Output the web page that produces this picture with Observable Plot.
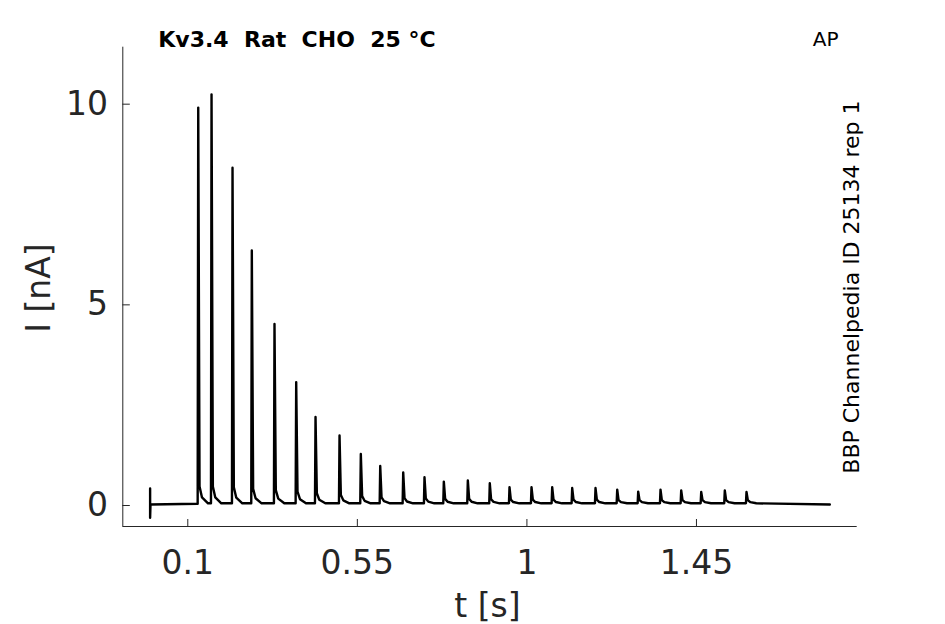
<!DOCTYPE html>
<html>
<head>
<meta charset="utf-8">
<script src="https://cdn.jsdelivr.net/npm/d3@7"></script>
<script src="https://cdn.jsdelivr.net/npm/@observablehq/plot@0.6"></script>
<style>
  html, body { margin: 0; padding: 0; background: #fff; }
  svg { display: block; }
</style>
</head>
<body>
<div id="chart"></div>
<script>
// ---- data ----
const title = "Kv3.4\u00a0\u00a0Rat\u00a0\u00a0CHO\u00a0\u00a025 \u00b0C";
const cornerLabel = "AP";
const sideLabel = "BBP Channelpedia ID 25134 rep 1";
const xLabel = "t [s]";
const yLabel = "I [nA]";

const xTicks = [0.1, 0.55, 1, 1.45];
const yTicks = [0, 5, 10];
const xDomain = [-0.0725, 1.8766];
const yDomain = [-0.548, 11.395];

// spike peak times (s) and peak currents (nA)
const spikeTimes = [0.1277, 0.1630, 0.2187, 0.2699, 0.3301, 0.3877, 0.4390, 0.5027, 0.5592,
  0.6107, 0.6717, 0.7282, 0.7795, 0.8432, 0.9015, 0.9538, 1.0122, 1.0671, 1.1202, 1.1821,
  1.2397, 1.2954, 1.3546, 1.4095, 1.4626, 1.5252, 1.5828];
const spikePeaks = [9.89, 10.22, 8.39, 6.33, 4.50, 3.05, 2.18, 1.72, 1.26,
  0.96, 0.80, 0.68, 0.57, 0.60, 0.53, 0.43, 0.43, 0.43, 0.41, 0.41,
  0.37, 0.32, 0.37, 0.35, 0.31, 0.35, 0.31];
// level of the tail knee just after each spike (nA)
const spikeKnees = [0.42, 0.42, 0.40, 0.36, 0.33, 0.29, 0.25, 0.21, 0.18,
  0.15, 0.13, 0.12, 0.11, 0.11, 0.10, 0.09, 0.09, 0.09, 0.09, 0.09,
  0.08, 0.08, 0.08, 0.08, 0.08, 0.08, 0.08];
// tail sample times after the peak (s) and their share of the knee level
const tailOffsets = [0.0035, 0.010, 0.026];
const tailShares = [1, 0.35, 0];
const riseLead = 0.0015;            // s before peak where the rise begins
const startArtifact = [0.4, -0.33]; // nA, at t = 0
const baseLevel = 0.03;             // nA
const traceEnd = 1.8039;            // s

// ---- build the trace table ----
const trace = [];
trace.push({t: 0, i: startArtifact[0]});
trace.push({t: 0, i: startArtifact[1]});
trace.push({t: 0.001, i: 0});
spikeTimes.forEach((t, k) => {
  trace.push({t: t - riseLead, i: k === 0 ? 0.02 : baseLevel});
  trace.push({t, i: spikePeaks[k]});
  tailOffsets.forEach((dt, j) => trace.push({t: t + dt, i: baseLevel + spikeKnees[k] * tailShares[j]}));
});
trace.push({t: traceEnd, i: 0});

const axisColor = "#262626";
const font = "DejaVu Sans";

const chart = Plot.plot({
  width: 945,
  height: 624,
  marginLeft: 122.3,
  marginRight: 88.3,
  marginTop: 46.7,
  marginBottom: 98,
  x: {domain: xDomain},
  y: {domain: yDomain},
  style: {fontFamily: font, background: "#fff", color: axisColor},
  marks: [
    Plot.ruleX([xDomain[0]], {stroke: axisColor, strokeWidth: 1}),
    Plot.ruleY([yDomain[0]], {stroke: axisColor, strokeWidth: 1}),
    Plot.axisX(xTicks, {tickSize: -7, tickPadding: 30.7, fontSize: 33, label: null,
      tickFormat: d => String(d), stroke: axisColor, fill: axisColor}),
    Plot.axisY(yTicks, {tickSize: -7.5, tickPadding: 22.3, fontSize: 33, label: null, dy: 1,
      tickFormat: d => String(d), stroke: axisColor, fill: axisColor}),
    Plot.line(trace, {x: "t", y: "i", stroke: "#000", strokeWidth: 2.4, curve: "linear"}),
    Plot.text([title], {frameAnchor: "top-left", text: d => d, textAnchor: "start", lineAnchor: "top",
      dx: 35.5, dy: -0.71 * 22, fontSize: 22, fontWeight: "bold", fill: "#000"}),
    Plot.text([cornerLabel], {frameAnchor: "top-right", text: d => d, textAnchor: "middle", lineAnchor: "top",
      dx: -31.5, dy: -1.7 - 0.71 * 20, fontSize: 20, fill: "#000"}),
    Plot.text([sideLabel], {frameAnchor: "right", text: d => d, textAnchor: "middle", lineAnchor: "top",
      rotate: -90, dx: -14, dy: 0.2, fontSize: 22, fill: "#000"}),
    Plot.text([xLabel], {frameAnchor: "bottom", text: d => d, textAnchor: "middle", lineAnchor: "top",
      dx: -2.5, dy: 616.7 - 526 - 0.71 * 33, fontSize: 33, fill: axisColor}),
    Plot.text([yLabel], {frameAnchor: "left", text: d => d, textAnchor: "middle", lineAnchor: "top",
      rotate: -90, dx: 49.3 - 122.3 - 0.71 * 33, dy: 1.2, fontSize: 33, fill: axisColor})
  ]
});
document.getElementById("chart").appendChild(chart);
</script>
</body>
</html>
